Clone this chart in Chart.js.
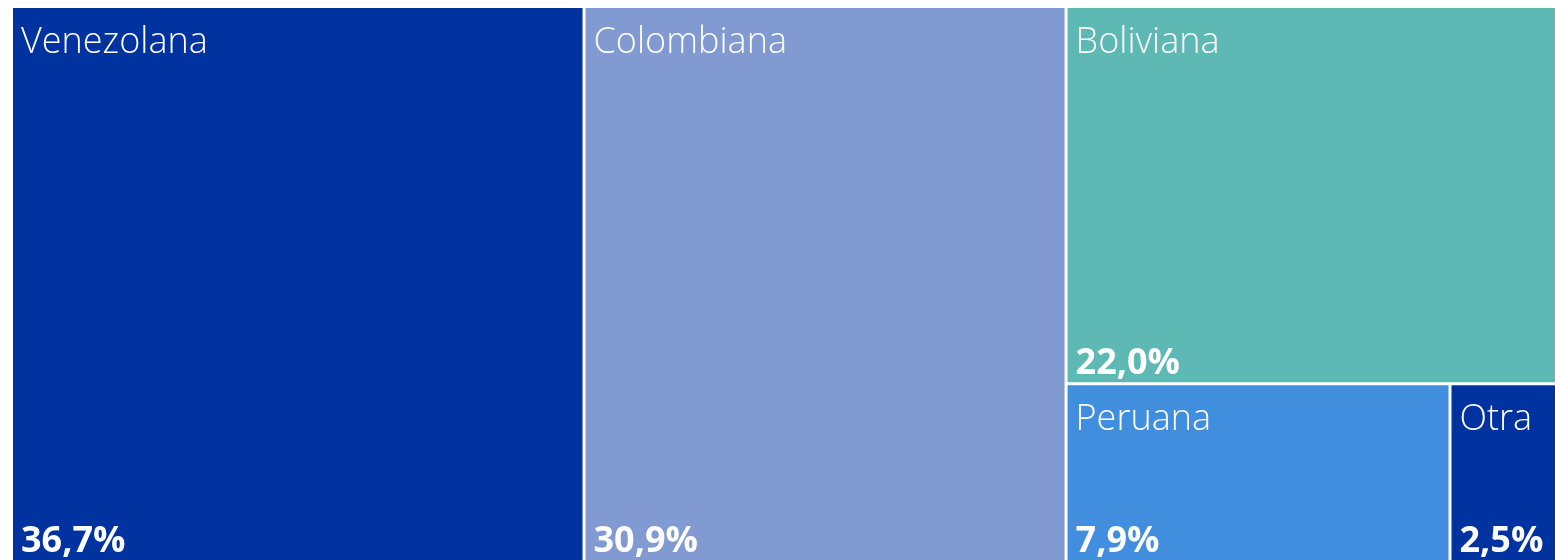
<!DOCTYPE html>
<html>
<head>
<meta charset="utf-8">
<script src="https://cdn.jsdelivr.net/npm/chart.js@4.4.1/dist/chart.umd.min.js"></script>
<style>
  html, body { margin: 0; padding: 0; background: #fff; overflow: hidden; }
  #wrap { position: absolute; left: 0; top: 0; }
</style>
</head>
<body>
<div id="wrap"><canvas id="chartNac" width="1575" height="565"></canvas></div>
<script>
// Nacionalidad (treemap, %)
const categorias = ["Venezolana", "Colombiana", "Boliviana", "Peruana", "Otra"];
const porcentajes = [36.7, 30.9, 22.0, 7.9, 2.5];
const colores = ["#0033a0", "#819bd2", "#5eb8b4", "#428ede", "#0033a0"];

const fmtPct = (v) => v.toFixed(1).replace(".", ",") + "%";

// squarified layout in data units (0..100 x 0..100), kx/ky = px per unit
function squarify(values, rect, kx, ky) {
  const out = new Array(values.length);
  const total = values.reduce((a, b) => a + b, 0);
  let { x, y, w, h } = rect;
  let items = values.map((v, i) => ({ v, i }));
  let remain = total;

  const worst = (row, side, areaPerVal) => {
    const s = row.reduce((a, r) => a + r.v, 0) * areaPerVal;
    let m = 0;
    row.forEach(r => {
      const a = r.v * areaPerVal;
      const len = a / (s / side);
      const thick = s / side;
      m = Math.max(m, Math.max(len / thick, thick / len));
    });
    return m;
  };

  while (items.length) {
    const wPx = w * kx, hPx = h * ky;
    const areaPerVal = (wPx * hPx) / remain;
    const vertical = wPx >= hPx; // lay a column along the height
    const side = vertical ? hPx : wPx;
    let row = [items[0]];
    let k = 1;
    while (k < items.length && worst(row.concat(items[k]), side, areaPerVal) <= worst(row, side, areaPerVal)) {
      row.push(items[k]); k++;
    }
    const rowSum = row.reduce((a, r) => a + r.v, 0);
    const frac = rowSum / remain;
    let off = 0;
    row.forEach(r => {
      const f = r.v / rowSum;
      if (vertical) out[r.i] = { x0: x, x1: x + w * frac, y0: y + h * off, y1: y + h * (off + f) };
      else out[r.i] = { x0: x + w * off, x1: x + w * (off + f), y0: y, y1: y + h * frac };
      off += f;
    });
    if (vertical) { x += w * frac; w -= w * frac; } else { y += h * frac; h -= h * frac; }
    remain -= rowSum;
    items = items.slice(k);
  }
  return out;
}

class TreemapController extends Chart.DatasetController {
  update(mode) {
    const meta = this._cachedMeta;
    this.updateElements(meta.data, 0, meta.data.length, mode);
  }
  updateElements(rects, start, count, mode) {
    const xs = this._cachedMeta.xScale, ys = this._cachedMeta.yScale;
    const vals = this.getDataset().data;
    const kx = xs.width / (xs.max - xs.min), ky = ys.height / (ys.max - ys.min);
    const cells = squarify(vals, { x: xs.min, y: ys.min, w: xs.max - xs.min, h: ys.max - ys.min }, kx, ky);
    for (let i = start; i < start + count; i++) {
      const c = cells[i];
      const left = xs.getPixelForValue(c.x0), right = xs.getPixelForValue(c.x1);
      const top = ys.getPixelForValue(c.y0), bottom = ys.getPixelForValue(c.y1);
      this.updateElement(rects[i], i, {
        x: (left + right) / 2, y: top, base: bottom,
        width: right - left, height: bottom - top,
        horizontal: false, borderSkipped: {}, inflateAmount: 0,
        options: this.resolveDataElementOptions(i, mode)
      }, mode);
    }
  }
}
TreemapController.id = "treemap";
TreemapController.defaults = { datasetElementType: false, dataElementType: "bar" };
TreemapController.overrides = {
  scales: { x: { type: "linear" }, y: { type: "linear" } }
};
Chart.register(TreemapController);

const cellLabels = {
  id: "cellLabels",
  afterDatasetsDraw(chart) {
    const ctx = chart.ctx;
    const meta = chart.getDatasetMeta(0);
    ctx.save();
    ctx.fillStyle = "#ffffff";
    ctx.textAlign = "left";
    ctx.textBaseline = "alphabetic";
    meta.data.forEach((el, i) => {
      const left = el.x - el.width / 2;
      const top = Math.min(el.y, el.base), bottom = Math.max(el.y, el.base);
      ctx.font = '300 36px "Open Sans", "Noto Sans", sans-serif';
      ctx.fillText(categorias[i], left + 9.5, top + 46.5);
      ctx.font = '700 36px "Open Sans", "Noto Sans", sans-serif';
      ctx.fillText(fmtPct(porcentajes[i]), left + 9.5, bottom - 10);
    });
    ctx.restore();
  }
};

new Chart(document.getElementById("chartNac"), {
  type: "treemap",
  data: {
    labels: categorias,
    datasets: [{
      data: porcentajes,
      backgroundColor: colores,
      borderColor: "#ffffff",
      borderWidth: 1.5
    }]
  },
  options: {
    responsive: false,
    animation: false,
    devicePixelRatio: 1,
    layout: { padding: { left: 11.5, right: 3.5, top: 6.5, bottom: 3 } },
    plugins: { legend: { display: false }, tooltip: { enabled: false } },
    scales: {
      x: { type: "linear", display: false, min: 0, max: 100 },
      y: { type: "linear", display: false, min: 0, max: 100, reverse: true }
    }
  },
  plugins: [cellLabels]
});
</script>
</body>
</html>
